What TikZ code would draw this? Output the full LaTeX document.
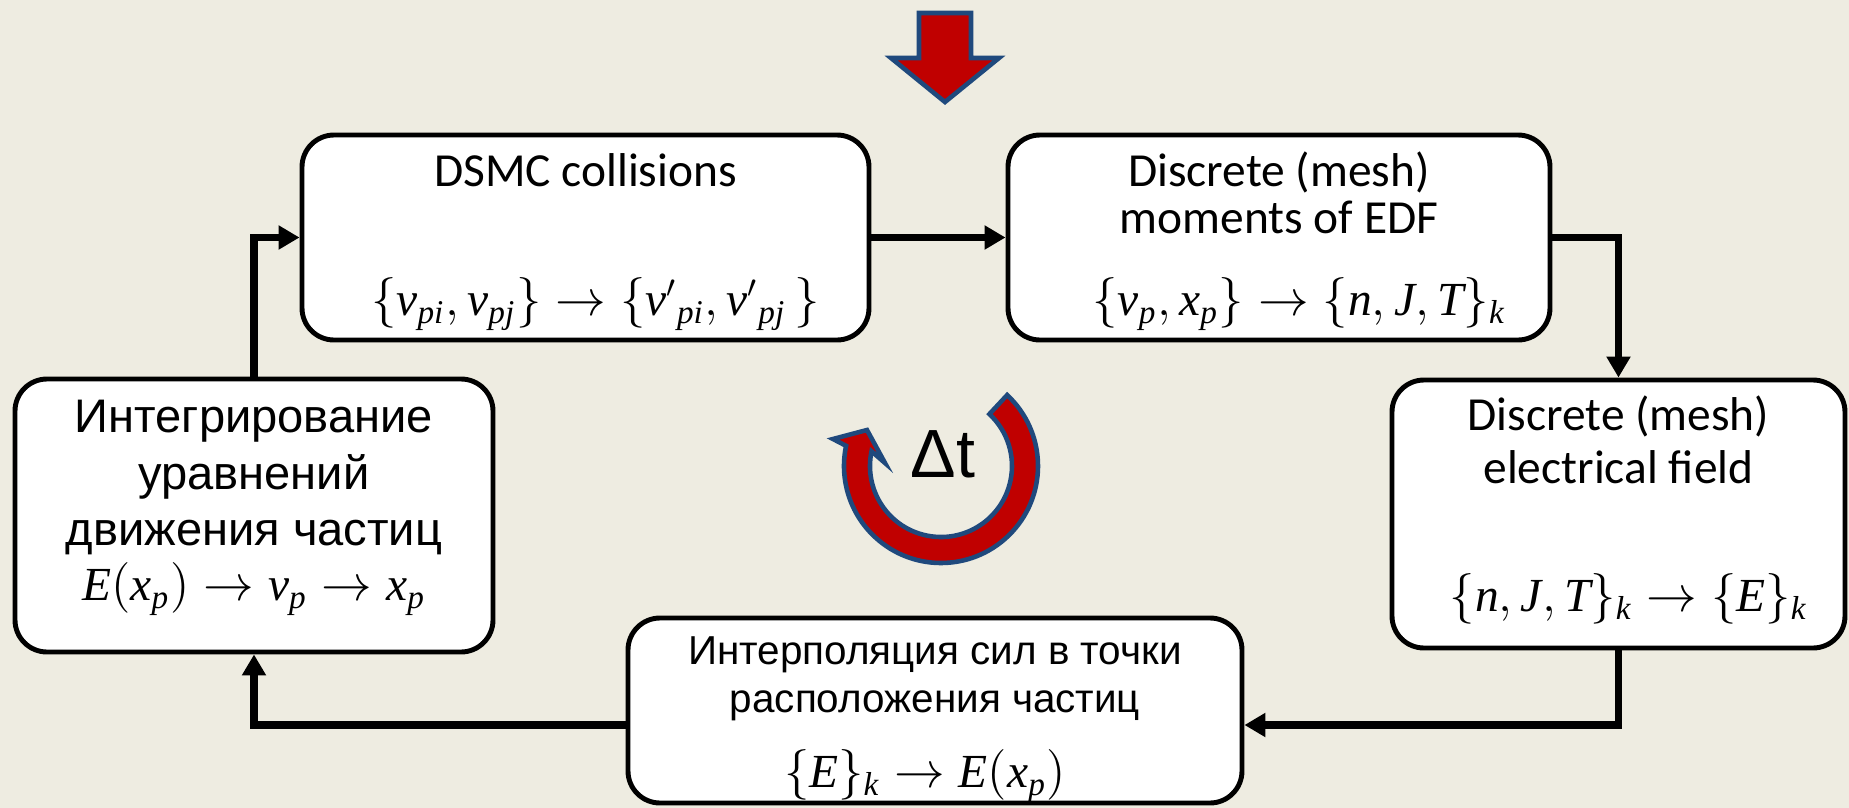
\documentclass[tikz,border=0pt]{standalone}
\usepackage{fontspec}
\setmainfont{Carlito}
\setmathrm{Liberation Serif}
\newfontfamily\rusfont{Liberation Sans}
\newfontfamily\fmlfont[NFSSFamily=libserif]{Liberation Serif}
\DeclareMathAlphabet{\mi}{TU}{libserif}{m}{it}
\usetikzlibrary{arrows.meta,positioning,calc}
\definecolor{slidebg}{HTML}{EEECE1}
\definecolor{loopred}{HTML}{C00000}
\definecolor{loopedge}{HTML}{1F497D}
\tikzset{
  stage/.style    = {draw, line width=1.4pt, rounded corners=0.32cm, fill=white, inner sep=0pt},
  entext/.style   = {font=\fontsize{13.5}{16}\selectfont, inner sep=0pt, anchor=base},
  rutext/.style   = {font=\rusfont\fontsize{13.4}{16}\selectfont, inner sep=0pt, anchor=base},
  rusmall/.style  = {font=\rusfont\fontsize{11.5}{14}\selectfont, inner sep=0pt, anchor=base},
  formula/.style  = {font=\fontsize{13.5}{16}\selectfont, inner sep=0pt, anchor=base},
  flow/.style     = {-{Triangle[length=0.21cm,width=0.23cm]}, line width=2pt},
  bigarrow/.style = {fill=loopred, draw=loopedge, line width=1.3pt},
}

\begin{document}
\begin{tikzpicture}
\fill[slidebg] (0,0) rectangle (18.49,-8.08);
\useasboundingbox (0,0) rectangle (18.49,-8.08);
% ---- stages of the cycle ----
\node[stage, minimum width=5.67cm, minimum height=2.05cm] (dsmc) at (5.855,-2.375) {};
\node[stage, minimum width=5.42cm, minimum height=2.05cm] (moments) at (12.79,-2.375) {};
\node[stage, minimum width=4.53cm, minimum height=2.68cm] (field) at (16.185,-5.14) {};
\node[stage, minimum width=4.78cm, minimum height=2.73cm] (motion) at (2.54,-5.155) {};
\node[stage, minimum width=6.14cm, minimum height=1.85cm] (interp) at (9.35,-7.105) {};
% ---- texts ----
\node[entext] (dsmc-t) at ($(dsmc.north)+(0,-0.54)$) {DSMC collisions};
\node[formula] (dsmc-f) at ($(dsmc.north)+(0.1,-1.83)$) {$\{\mi{v}_{\mi{pi}},\mi{v}_{\mi{pj}}\}\rightarrow\{{\mi{v}'}_{\mi{pi}},{\mi{v}'}_{\mi{pj}}\,\}$};
\node[entext] (moments-t1) at ($(moments.north)+(0,-0.54)$) {Discrete (mesh)};
\node[entext] (moments-t2) at ($(moments.north)+(0,-1.01)$) {moments of EDF};
\node[formula] (moments-f) at ($(moments.north)+(0.2,-1.83)$) {$\{\mi{v}_{\mi{p}},\mi{x}_{\mi{p}}\}\rightarrow\{\mi{n},\mi{J},\mi{T}\}_{\mi{k}}$};
\node[entext] (field-t1) at ($(field.north)+(0,-0.53)$) {Discrete (mesh)};
\node[entext] (field-t2) at ($(field.north)+(0,-1.06)$) {electrical field};
\node[formula] (field-f) at ($(field.north)+(0.1,-2.34)$) {$\{\mi{n},\mi{J},\mi{T}\}_{\mi{k}}\rightarrow\{\mi{E}\}_{\mi{k}}$};
\node[rutext] (motion-t1) at ($(motion.north)+(0,-0.56)$) {Интегрирование};
\node[rutext] (motion-t2) at ($(motion.north)+(0,-1.13)$) {уравнений};
\node[rutext] (motion-t3) at ($(motion.north)+(0,-1.69)$) {движения частиц};
\node[formula] (motion-f) at ($(motion.north)+(0,-2.24)$) {$\mi{E}(\mi{x}_{\mi{p}})\rightarrow\mi{v}_{\mi{p}}\rightarrow\mi{x}_{\mi{p}}$};
\node[rusmall] (interp-t1) at ($(interp.north)+(0,-0.49)$) {Интерполяция сил в точки};
\node[rusmall] (interp-t2) at ($(interp.north)+(0,-0.97)$) {расположения частиц};
\node[formula] (interp-f) at ($(interp.north)+(-0.1,-1.72)$) {$\{\mi{E}\}_{\mi{k}}\rightarrow\mi{E}(\mi{x}_{\mi{p}})$};
% ---- connectors ----
\draw[flow] (dsmc.east) -- (moments.west);
\draw[flow] (moments.east) -| (field.north);
\draw[flow] (field.south) |- ($(interp.east)+(0,-0.145)$);
\draw[flow] ($(interp.west)+(0,-0.145)$) -| (motion.south);
\draw[flow] (motion.north) |- (dsmc.west);
% ---- input arrow ----
\filldraw[bigarrow] (9.19,-0.13) -- (9.71,-0.13) -- (9.71,-0.58) -- (9.99,-0.58)
  -- (9.45,-1.02) -- (8.91,-0.58) -- (9.19,-0.58) -- cycle;
% ---- time step loop ----
\coordinate (cyc) at (9.41,-4.66);
\filldraw[bigarrow] ($(cyc)+(47:0.97)$) arc[start angle=47, end angle=-192, radius=0.97]
  -- ($(cyc)+(-1.08,0.27)$) -- ($(cyc)+(-0.74,0.36)$) -- ($(cyc)+(-0.56,0.03)$)
  -- ($(cyc)+(168:0.71)$) arc[start angle=-192, end angle=47, radius=0.71] -- cycle;
\node[font=\rusfont\fontsize{19.4}{23}\selectfont, inner sep=0pt, anchor=base] (dt) at (9.43,-4.77) {Δt};
\end{tikzpicture}
\end{document}
